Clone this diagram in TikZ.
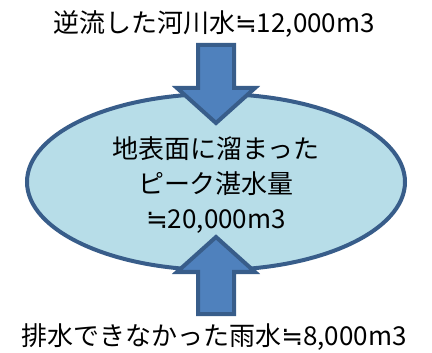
\documentclass[tikz,border=0pt]{standalone}
\usepackage{fontspec}
\setmainfont{Noto Sans CJK JP}
\newfontfamily\symfont{DejaVu Sans}
\usetikzlibrary{calc,shapes.geometric}
\definecolor{arrowblue}{HTML}{4F81BD}
\definecolor{edgeblue}{HTML}{385D8A}
\definecolor{pondblue}{HTML}{B7DDE8}
\def\nearly{{\symfont ≒}}
\def\blockarrow[#1](#2)(#3){\draw[#1] ($(#2)+(-18,0)$) -- ($(#2)+(18,0)$) -- ($(#3)!35pt!(#2)+(18,0)$) -- ($(#3)!35pt!(#2)+(39,0)$) -- (#3) -- ($(#3)!35pt!(#2)+(-39,0)$) -- ($(#3)!35pt!(#2)+(-18,0)$) -- cycle;}

\begin{document}
\begin{tikzpicture}[x=1pt, y=-1pt]
			%%%%% START %%%%%
			
			\useasboundingbox (0, 0) rectangle (432, 353);
			
			\tikzset{label/.style={font=\fontsize{26}{32}\selectfont, inner sep=0pt}}
			
			\node[label] (inflow) at (214, 24) {逆流した河川水\nearly12,000m3};
			\node[label] (rain) at (214, 337) {排水できなかった雨水\nearly8,000m3};
			
			\node[ellipse, draw=edgeblue, line width=4pt, fill=pondblue, minimum width=378pt, minimum height=176pt, inner sep=0pt] (pond) at (216, 182) {};
			
			\coordinate (in-start) at (216, 45);
			\coordinate (in-tip) at (216, 123);
			\blockarrow[line width=4pt, draw=edgeblue, fill=arrowblue](in-start)(in-tip)
			
			\coordinate (rain-start) at (216, 314);
			\coordinate (rain-tip) at (216, 237);
			\blockarrow[line width=4pt, draw=edgeblue, fill=arrowblue](rain-start)(rain-tip)
			
			\node[label, align=center] (peak) at (216, 185) {地表面に溜まった\\[3pt]ピーク湛水量\\[3pt]\nearly20,000m3};
			
			%%%%% END %%%%%
\end{tikzpicture}
\end{document}
